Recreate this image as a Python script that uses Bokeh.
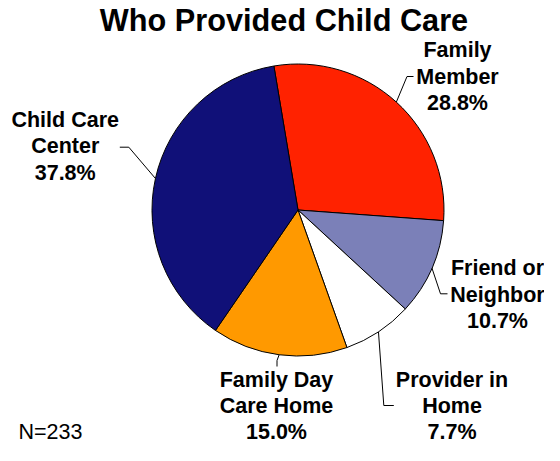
import math
from bokeh.plotting import figure
from bokeh.models import Range1d, ColumnDataSource
from bokeh.core.properties import value
from bokeh.embed import file_html
from bokeh.resources import INLINE

# ---- data ----
title_text = "Who Provided Child Care"
categories = ["Family Member", "Friend or Neighbor", "Provider in Home",
              "Family Day Care Home", "Child Care Center"]
label_lines = [["Family", "Member"], ["Friend or", "Neighbor"], ["Provider in", "Home"],
               ["Family Day", "Care Home"], ["Child Care", "Center"]]
percents = [28.8, 10.7, 7.7, 15.0, 37.8]
colors = ["#FF2200", "#7B80B8", "#FFFFFF", "#FF9900", "#101078"]
note_text = "N=233"

# ---- layout (pixel coordinates of the picture, origin top-left) ----
W, H = 544, 445
TOP = 461
LABEL_PX = 21.5
TITLE_PX = 30.7
BASE_SHIFT = 0.38  # renderer places alphabetic baseline ~0.38em lower


def Y(py):
    return TOP - py


cx, cy, R = 297.5, Y(209.5), 146
start_offset = -9.5  # degrees clockwise from 12 o'clock

# x centre and first-line baseline of each label
label_pos = [(457, 58), (497, 276), (451.5, 387.5), (276, 387.5), (64.7, 127.7)]
line_gap = 26.3
leader_elbow = [(406.5, 76), (440, 293.3), (383.3, 405), (276.5, 360), (128.3, 146.7)]
leader_end = [(413, 76), (447, 293.3), (393.3, 405), (276.5, 366), (119.3, 146.7)]

total = sum(percents)
starts, ends, mids = [], [], []
cum = 0.0
for pct in percents:
    a = cum / total
    b = (cum + pct) / total
    cum += pct
    s_math = 90 - (start_offset + b * 360)
    e_math = 90 - (start_offset + a * 360)
    starts.append(math.radians(s_math))
    ends.append(math.radians(e_math))
    mids.append(math.radians((s_math + e_math) / 2))

p = figure(width=W, height=H, x_range=Range1d(0, W), y_range=Range1d(Y(H), Y(0)),
           output_backend="svg", toolbar_location=None, min_border=0,
           x_axis_location=None, y_axis_location=None)
p.title.visible = False
p.grid.visible = False
p.outline_line_color = None
p.background_fill_color = "white"
p.border_fill_color = "white"

src = ColumnDataSource(dict(start=starts, end=ends, color=colors, cat=categories))
p.wedge(x=cx, y=cy, radius=R, start_angle="start", end_angle="end",
        fill_color="color", line_color="black", line_width=1, source=src)

# leader lines
lx, ly = [], []
for i, m in enumerate(mids):
    sx = cx + R * math.cos(m)
    sy = cy + R * math.sin(m)
    ex, ey = leader_elbow[i]
    fx, fy = leader_end[i]
    lx.append([sx, ex, fx])
    ly.append([sy, Y(ey), Y(fy)])
p.multi_line(xs=lx, ys=ly, line_color="black", line_width=1)

# labels
tx, ty, tt = [], [], []
for i, lines in enumerate(label_lines):
    x0, b0 = label_pos[i]
    all_lines = lines + ["%.1f%%" % percents[i]]
    for j, t in enumerate(all_lines):
        tx.append(x0)
        ty.append(Y(b0 + j * line_gap - BASE_SHIFT * LABEL_PX))
        tt.append(t)
p.text(x=tx, y=ty, text=tt, text_align="center", text_baseline="alphabetic",
       text_font=value("Liberation Sans"), text_font_style="bold",
       text_font_size=value("%gpx" % LABEL_PX), text_color="black")

# title
p.text(x=[283.5], y=[Y(32 - BASE_SHIFT * TITLE_PX)], text=[title_text], text_align="center",
       text_baseline="alphabetic", text_font=value("Liberation Sans"), text_font_style="bold",
       text_font_size=value("%gpx" % TITLE_PX), text_color="black")

# note
p.text(x=[18], y=[Y(440 - BASE_SHIFT * LABEL_PX)], text=[note_text], text_align="left",
       text_baseline="alphabetic", text_font=value("Liberation Sans"),
       text_font_size=value("%gpx" % LABEL_PX), text_color="black")

open("out.html", "w").write(file_html(p, INLINE))
